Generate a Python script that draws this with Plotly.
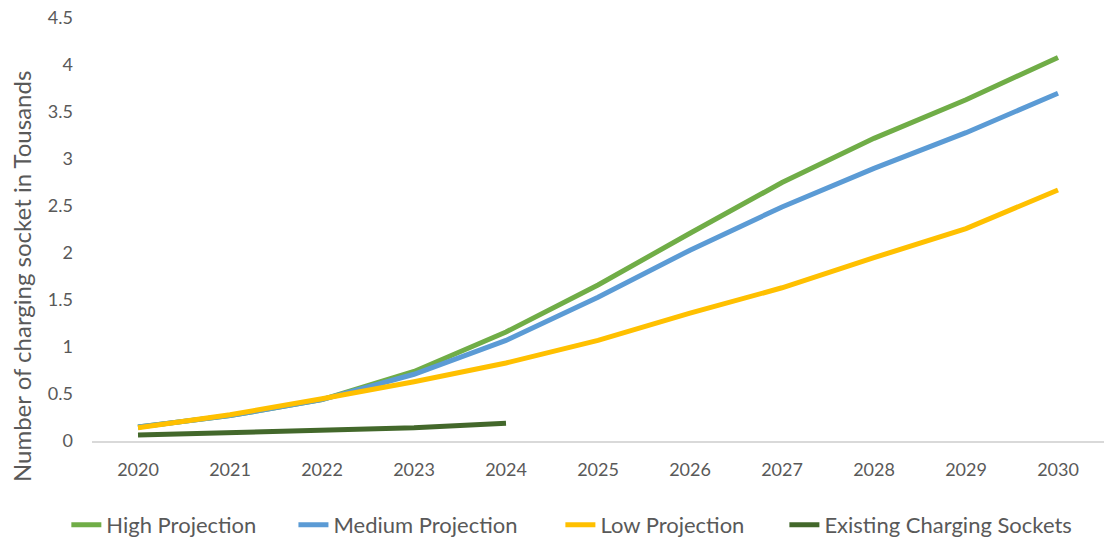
import plotly.graph_objects as go

years = [2020, 2021, 2022, 2023, 2024, 2025, 2026, 2027, 2028, 2029, 2030]
high = [0.15, 0.27, 0.44, 0.74, 1.16, 1.66, 2.21, 2.75, 3.22, 3.63, 4.08]
medium = [0.15, 0.27, 0.44, 0.71, 1.07, 1.53, 2.03, 2.49, 2.90, 3.28, 3.70]
low = [0.14, 0.28, 0.45, 0.63, 0.83, 1.07, 1.36, 1.63, 1.95, 2.26, 2.67]
existing_years = [2020, 2021, 2022, 2023, 2024]
existing = [0.065, 0.09, 0.12, 0.14, 0.19]

series = [
    ("High Projection", years, high, "#70AD47", "legend"),
    ("Medium Projection", years, medium, "#5B9BD5", "legend2"),
    ("Low Projection", years, low, "#FFC000", "legend3"),
    ("Existing Charging Sockets", existing_years, existing, "#43682B", "legend4"),
]
legend_x = [0.0601, 0.2658, 0.5076, 0.7105]

fig = go.Figure()
for name, xs, ys, color, lg in series:
    fig.add_trace(go.Scatter(x=xs, y=ys, name=name, mode="lines", legend=lg,
                             line=dict(color=color, width=5)))

font_family = "Lato, Open Sans, sans-serif"
legend_common = dict(orientation="h", xref="container", xanchor="left",
                     yref="container", y=0.0278, yanchor="middle",
                     font=dict(size=22, color="#595959", family=font_family),
                     itemwidth=30, bgcolor="rgba(0,0,0,0)")

fig.update_layout(
    width=1104, height=540,
    paper_bgcolor="white", plot_bgcolor="white",
    margin=dict(l=92, r=0, t=18, b=99, autoexpand=False),
    font=dict(family=font_family, color="#595959", size=18),
    showlegend=True,
    legend=dict(x=legend_x[0], **legend_common),
    legend2=dict(x=legend_x[1], **legend_common),
    legend3=dict(x=legend_x[2], **legend_common),
    legend4=dict(x=legend_x[3], **legend_common),
    xaxis=dict(range=[2019.5, 2030.5], tickmode="array", tickvals=years,
               ticktext=[str(y) for y in years], showgrid=False, zeroline=False,
               showline=True, linecolor="#D9D9D9", linewidth=1.5, ticks="",
               ticklabelstandoff=12, automargin=False,
               tickfont=dict(size=18, color="#595959")),
    yaxis=dict(range=[0, 4.5], tickvals=[0, 0.5, 1, 1.5, 2, 2.5, 3, 3.5, 4, 4.5],
               ticktext=["0", "0.5", "1", "1.5", "2", "2.5", "3", "3.5", "4", "4.5"],
               showgrid=False, zeroline=False, showline=False, ticks="",
               ticklabelstandoff=18, automargin=False, ticklabeloverflow="allow",
               tickfont=dict(size=18, color="#595959")),
)
fig.add_annotation(text="Number of charging socket in Tousands", textangle=-90,
                   xref="paper", yref="paper", x=-0.069, y=0.388, xanchor="center",
                   yanchor="middle", showarrow=False,
                   font=dict(size=24, color="#595959", family=font_family))
fig.write_html("out.html", config={"displayModeBar": False},
               post_script="document.body.style.margin='0';document.body.style.overflow='hidden';")
